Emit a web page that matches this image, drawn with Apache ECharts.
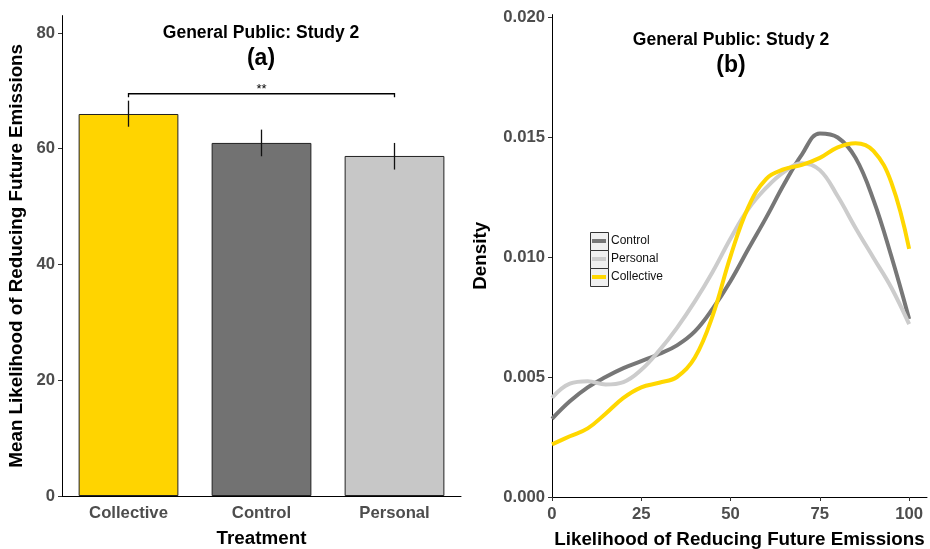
<!DOCTYPE html>
<html><head><meta charset="utf-8">
<script src="https://cdn.jsdelivr.net/npm/echarts@6/dist/echarts.min.js"></script>
<style>html,body{margin:0;padding:0;background:#fff}#c{width:930px;height:549px}</style>
</head><body><div id="c"></div>
<script>
// ---- Panel (a) data ----
const categories = ['Collective', 'Control', 'Personal'];
const means = [66.0, 61.0, 58.75];
const errLow = [63.8, 58.7, 56.4];
const errHigh = [68.3, 63.3, 61.0];
const barColors = ['#FFD400', '#727272', '#C7C7C7'];
const yTicksA = [0, 20, 40, 60, 80];
const bracket = { from: 0, to: 2, value: 69.5, tickDrop: 0.6, label: '**' };

// ---- Panel (b) data ----
const densityX = [0,5,10,15,20,25,30,35,40,45,50,55,60,65,70,75,80,85,90,95,100];
const densControl = [0.00326,0.00399,0.00457,0.00500,0.00537,0.00566,0.00596,0.00632,0.00690,0.00785,0.00900,0.01034,0.01165,0.01304,0.01428,0.01515,0.01498,0.01413,0.01238,0.01004,0.00742];
const densPersonal = [0.00413,0.00472,0.00482,0.00469,0.00479,0.00530,0.00610,0.00705,0.00815,0.00939,0.01077,0.01201,0.01289,0.01355,0.01391,0.01362,0.01253,0.01121,0.00997,0.00873,0.00720];
const densCollective = [0.00219,0.00253,0.00286,0.00347,0.00413,0.00457,0.00476,0.00500,0.00581,0.00756,0.01004,0.01209,0.01326,0.01366,0.01384,0.01413,0.01457,0.01474,0.01442,0.01311,0.01034];
const xTicksB = [0, 25, 50, 75, 100];
const yTicksB = [0, 0.005, 0.010, 0.015, 0.020];
const seriesNames = ['Control', 'Personal', 'Collective'];
const lineColors = ['#777777', '#CCCCCC', '#FFD700'];

const FF = '"Liberation Sans", Arial, Helvetica, sans-serif';
const tickLabel = { color: '#4d4d4d', fontWeight: 'bold', fontSize: 16.7, fontFamily: FF, margin: 7 };
const xTickLabel = Object.assign({}, tickLabel, { margin: 9 });
const axisName = { color: '#000', fontWeight: 'bold', fontSize: 18.8, fontFamily: FF };

const chart = echarts.init(document.getElementById('c'), null, { renderer: 'canvas' });
const pair = (xs, ys) => xs.map((x, i) => [x, ys[i]]);

const option = {
  animation: false,
  grid: [
    { left: 62, top: 15.6, width: 399, bottom: 53, containLabel: false, outerBoundsMode: 'none' },
    { left: 552, top: 14.6, width: 375, bottom: 52, containLabel: false, outerBoundsMode: 'none' }
  ],
  xAxis: [
    { gridIndex: 0, type: 'category', data: categories, boundaryGap: true,
      axisLine: { lineStyle: { color: '#000', width: 1 } },
      axisTick: { alignWithLabel: true, length: 4, lineStyle: { color: '#333' } },
      axisLabel: xTickLabel,
      name: 'Treatment', nameLocation: 'middle', nameGap: 33, nameTextStyle: axisName },
    { gridIndex: 1, type: 'value', min: 0, max: 105,
      axisLine: { show: true, lineStyle: { color: '#000', width: 1 } },
      axisTick: { show: true, length: 4, customValues: xTicksB, lineStyle: { color: '#333' } },
      axisLabel: Object.assign({}, xTickLabel, { customValues: xTicksB }),
      splitLine: { show: false },
      name: 'Likelihood of Reducing Future Emissions', nameLocation: 'middle', nameGap: 33,
      nameTextStyle: axisName }
  ],
  yAxis: [
    { gridIndex: 0, type: 'value', min: 0, max: 83,
      axisLine: { show: true, lineStyle: { color: '#000', width: 1 } },
      axisTick: { show: true, length: 4, customValues: yTicksA, lineStyle: { color: '#333' } },
      axisLabel: Object.assign({}, tickLabel, { customValues: yTicksA }),
      splitLine: { show: false },
      name: 'Mean Likelihood of Reducing Future Emissions', nameLocation: 'middle', nameGap: 36, nameTextStyle: axisName },
    { gridIndex: 1, type: 'value', min: 0, max: 0.0201,
      axisLine: { show: true, lineStyle: { color: '#000', width: 1 } },
      axisTick: { show: true, length: 4, customValues: yTicksB, lineStyle: { color: '#333' } },
      axisLabel: Object.assign({}, tickLabel, { customValues: yTicksB, formatter: v => v.toFixed(3) }),
      splitLine: { show: false },
      name: 'Density', nameLocation: 'middle', nameGap: 62, nameTextStyle: axisName }
  ],
  legend: {
    data: seriesNames, orient: 'vertical', left: 592, top: 232, padding: 0, itemGap: 0,
    icon: 'rect', itemWidth: 14, itemHeight: 4, selectedMode: false,
    textStyle: { fontSize: 12, color: '#111', fontFamily: FF, lineHeight: 18, padding: [0, 0, 0, 0] }
  },
  graphic: [
    { type: 'text', style: { text: 'General Public: Study 2', x: 261, y: 33, textAlign: 'center', textVerticalAlign: 'middle', fontSize: 17.5, fontWeight: 'bold', fontFamily: FF, fill: '#000' } },
    { type: 'text', style: { text: '(a)', x: 261, y: 59, textAlign: 'center', textVerticalAlign: 'middle', fontSize: 23, fontWeight: 'bold', fontFamily: FF, fill: '#000' } },
    { type: 'text', style: { text: 'General Public: Study 2', x: 731, y: 40, textAlign: 'center', textVerticalAlign: 'middle', fontSize: 17.5, fontWeight: 'bold', fontFamily: FF, fill: '#000' } },
    { type: 'text', style: { text: '(b)', x: 731, y: 66, textAlign: 'center', textVerticalAlign: 'middle', fontSize: 23, fontWeight: 'bold', fontFamily: FF, fill: '#000' } },
    { type: 'rect', z: 1, shape: { x: 590.5, y: 232.5, width: 18, height: 18 }, style: { fill: '#f0f0f0', stroke: '#333', lineWidth: 1 } },
    { type: 'rect', z: 1, shape: { x: 590.5, y: 250.5, width: 18, height: 18 }, style: { fill: '#f0f0f0', stroke: '#333', lineWidth: 1 } },
    { type: 'rect', z: 1, shape: { x: 590.5, y: 268.5, width: 18, height: 18 }, style: { fill: '#f0f0f0', stroke: '#333', lineWidth: 1 } }
  ],
  series: [
    { name: 'Mean', type: 'bar', xAxisIndex: 0, yAxisIndex: 0, barCategoryGap: '25%',
      data: means.map((v, i) => ({ value: v, itemStyle: { color: barColors[i] } })),
      itemStyle: { borderColor: '#222', borderWidth: 1 }, silent: true },
    { name: 'SE', type: 'custom', xAxisIndex: 0, yAxisIndex: 0, silent: true, z: 5,
      data: categories.map((c, i) => [i, errLow[i], errHigh[i]]),
      renderItem: (params, api) => {
        const p1 = api.coord([api.value(0), api.value(1)]);
        const p2 = api.coord([api.value(0), api.value(2)]);
        return { type: 'line', shape: { x1: p1[0], y1: p1[1], x2: p2[0], y2: p2[1] }, style: { stroke: '#111', lineWidth: 1.3 } };
      } },
    { name: 'Sig', type: 'custom', xAxisIndex: 0, yAxisIndex: 0, silent: true, z: 5,
      data: [[bracket.from, bracket.to, bracket.value, bracket.tickDrop]],
      renderItem: (params, api) => {
        const a = api.coord([api.value(0), api.value(2)]);
        const b = api.coord([api.value(1), api.value(2)]);
        const a2 = api.coord([api.value(0), api.value(2) - api.value(3)]);
        const b2 = api.coord([api.value(1), api.value(2) - api.value(3)]);
        return { type: 'group', children: [
          { type: 'polyline', shape: { points: [a2, a, b, b2] }, style: { stroke: '#000', lineWidth: 1.3, fill: null } },
          { type: 'text', style: { text: bracket.label, x: (a[0] + b[0]) / 2, y: a[1] + 2, textAlign: 'center', textVerticalAlign: 'bottom', fontSize: 13, fontFamily: FF, fill: '#000' } }
        ] };
      } },
    ...seriesNames.map((n, k) => ({
      name: n, type: 'line', xAxisIndex: 1, yAxisIndex: 1, smooth: 0.4, showSymbol: false, silent: true,
      color: lineColors[k],
      lineStyle: { width: 4, color: lineColors[k] },
      data: pair(densityX, [densControl, densPersonal, densCollective][k])
    }))
  ]
};
chart.setOption(option);
</script></body></html>
